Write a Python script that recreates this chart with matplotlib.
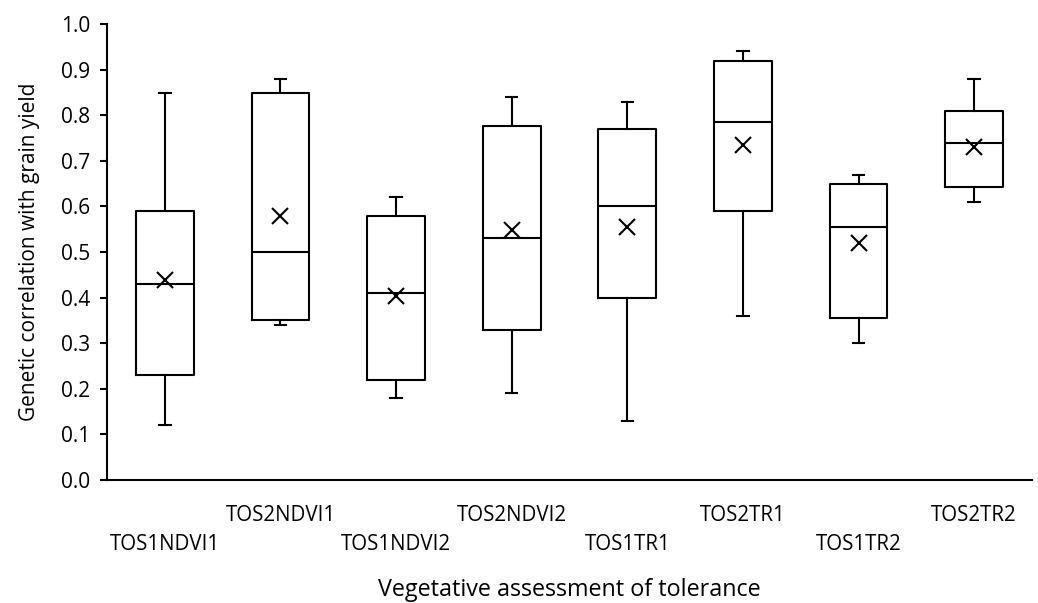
import matplotlib
matplotlib.use("Agg")
import matplotlib.pyplot as plt

plt.rcParams['font.family'] = ['Open Sans', 'DejaVu Sans']

categories = ["TOS1NDVI1", "TOS2NDVI1", "TOS1NDVI2", "TOS2NDVI2",
              "TOS1TR1", "TOS2TR1", "TOS1TR2", "TOS2TR2"]
whisker_low = [0.12, 0.34, 0.18, 0.19, 0.13, 0.36, 0.30, 0.61]
q1 = [0.23, 0.35, 0.22, 0.33, 0.40, 0.59, 0.355, 0.643]
median = [0.43, 0.50, 0.41, 0.53, 0.60, 0.785, 0.555, 0.74]
q3 = [0.59, 0.85, 0.58, 0.776, 0.771, 0.92, 0.65, 0.81]
whisker_high = [0.85, 0.88, 0.62, 0.84, 0.83, 0.94, 0.67, 0.88]
mean = [0.438, 0.579, 0.404, 0.548, 0.556, 0.735, 0.519, 0.731]
yticks = [0.0, 0.1, 0.2, 0.3, 0.4, 0.5, 0.6, 0.7, 0.8, 0.9, 1.0]

fig = plt.figure(figsize=(10.38, 6.03), dpi=100)
ax = fig.add_axes([0.1031, 0.204, 0.8911, 0.756])

stats = []
for i in range(len(categories)):
    stats.append(dict(whislo=whisker_low[i], q1=q1[i], med=median[i], q3=q3[i],
                      whishi=whisker_high[i], mean=mean[i], fliers=[], label=categories[i]))

lw = 1.5
positions = list(range(1, len(categories) + 1))
ax.bxp(stats, positions=positions, widths=0.5, showmeans=True, showfliers=False,
       capwidths=0.1,
       boxprops=dict(color='black', linewidth=lw),
       whiskerprops=dict(color='black', linewidth=lw),
       capprops=dict(color='black', linewidth=lw),
       medianprops=dict(color='black', linewidth=lw),
       meanprops=dict(marker='x', markeredgecolor='black', markersize=12, markeredgewidth=1.5))

ax.set_xlim(0.5, len(categories) + 0.5)
ax.set_ylim(0, 1.0)
ax.set_yticks(yticks)
ax.set_yticklabels([f"{v:.1f}" for v in yticks])
ax.set_xticks(positions)
ax.set_xticklabels(categories)
ax.tick_params(axis='x', length=0, labelsize=14.8, colors='black')
ax.tick_params(axis='y', length=5, width=1.5, labelsize=15, direction='out', pad=7)
for i, t in enumerate(ax.xaxis.get_major_ticks()):
    t.set_pad(39 if i % 2 == 0 else 18)

for s in ['top', 'right']:
    ax.spines[s].set_visible(False)
for s in ['left', 'bottom']:
    ax.spines[s].set_linewidth(1.5)

ax.set_ylabel("Genetic correlation with grain yield", fontsize=15)
ax.yaxis.set_label_coords(-0.0726, 0.5)
fig.text(0.548, 0.022, "Vegetative assessment of tolerance", fontsize=16.8, ha='center', va='center')

fig.savefig("out.png", dpi=100)
